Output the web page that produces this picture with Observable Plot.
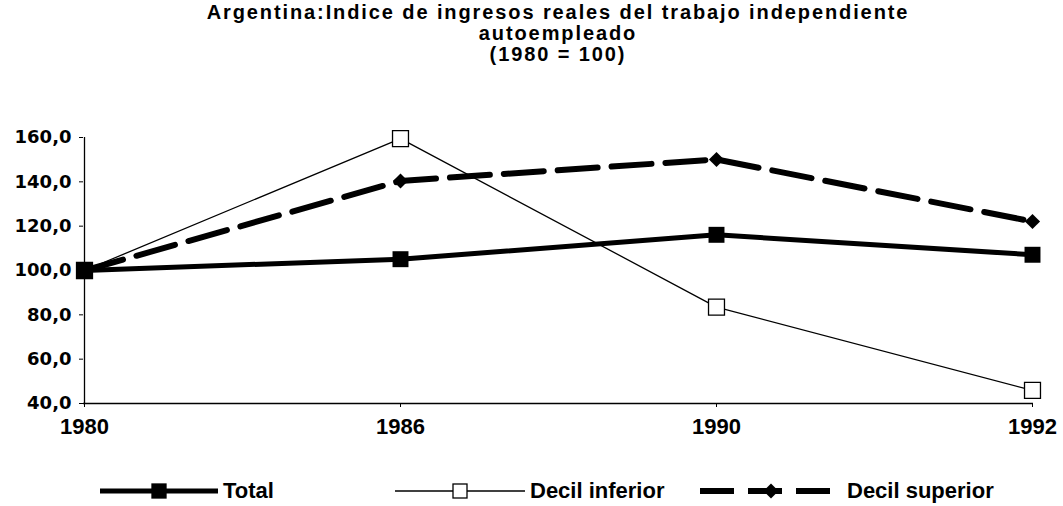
<!DOCTYPE html>
<html>
<head>
<meta charset="utf-8">
<script src="https://cdn.jsdelivr.net/npm/d3@7"></script>
<script src="https://cdn.jsdelivr.net/npm/@observablehq/plot@0.6"></script>
<style>
  html, body { margin: 0; padding: 0; background: #fff; }
  #wrap { position: relative; width: 1063px; height: 506px; overflow: hidden; }
  #title { position: absolute; left: 58px; width: 1000px; top: 2px; text-align: center;
           font-family: "Liberation Sans", Arial, sans-serif; font-weight: bold; font-size: 20px;
           letter-spacing: 1.9px; line-height: 21px; color: #000; }
  #title div { height: 21px; }
  #chart { position: absolute; left: 0; top: 60px; }
  #legend { position: absolute; left: 0; top: 478px; width: 1063px; height: 26px; }
  .item { position: absolute; top: 0; height: 26px; display: flex; align-items: center; }
  .item span { font-family: "Liberation Sans", Arial, sans-serif; font-weight: bold; font-size: 22px; color: #000; }
</style>
</head>
<body>
<div id="wrap">
  <div id="title">
    <div>Argentina:Indice de ingresos reales del trabajo independiente</div>
    <div>autoempleado</div>
    <div>(1980 = 100)</div>
  </div>
  <div id="chart"></div>
  <div id="legend"></div>
</div>
<script>
const years = ["1980", "1986", "1990", "1992"];
const total = [100, 105.1, 116.1, 107.1];
const decilInferior = [100, 159.5, 83.5, 45.9];
const decilSuperior = [100, 140.4, 150.1, 122.1];
const yTicks = [40, 60, 80, 100, 120, 140, 160];
const seriesNames = ["Total", "Decil inferior", "Decil superior"];

const rows = (name, vals) => years.map((y, i) => ({serie: name, year: y, value: vals[i]}));
const dTotal = rows(seriesNames[0], total);
const dInf = rows(seriesNames[1], decilInferior);
const dSup = rows(seriesNames[2], decilSuperior);

const fmt = d => d.toFixed(1).replace(".", ",");

const plot = Plot.plot({
  width: 1063,
  height: 380,
  marginLeft: 83,
  marginRight: 30,
  marginTop: 77,
  marginBottom: 37,
  style: {background: "transparent", color: "#000"},
  x: {type: "point", domain: years, padding: 0, label: null},
  y: {domain: [40, 160], label: null},
  marks: [
    Plot.ruleY([40], {stroke: "#000", strokeWidth: 1.3}),
    Plot.ruleX([years[0]], {stroke: "#000", strokeWidth: 1.3}),
    Plot.axisY({ticks: yTicks, tickFormat: fmt, tickSize: 4, tickPadding: 8, label: null,
      fontFamily: "DejaVu Sans", fontWeight: "bold", fontSize: 18}),
    Plot.axisX({tickSize: 4, tickPadding: 11, label: null,
      fontFamily: "Liberation Sans", fontWeight: "bold", fontSize: 22}),
    Plot.line(dInf, {x: "year", y: "value", stroke: "#000", strokeWidth: 1.3}),
    Plot.line(dSup, {x: "year", y: "value", stroke: "#000", strokeWidth: 6, strokeDasharray: "40,14"}),
    Plot.line(dTotal, {x: "year", y: "value", stroke: "#000", strokeWidth: 5}),
    Plot.dot(dInf, {x: "year", y: "value", symbol: "square", r: 9, fill: "#fff", stroke: "#000", strokeWidth: 1.3}),
    Plot.dot(dSup, {x: "year", y: "value", symbol: "diamond2", r: 6.8, fill: "#000"}),
    Plot.dot(dTotal, {x: "year", y: "value", symbol: "square", r: 9, fill: "#000"})
  ]
});
document.getElementById("chart").appendChild(plot);

// Legend
const legend = document.getElementById("legend");
const items = [
  {left: 100, w: 118, name: seriesNames[0], sw: 5, dash: null, marker: "fsq"},
  {left: 395, w: 130, name: seriesNames[1], sw: 1.3, dash: null, marker: "osq"},
  {left: 700, w: 142, name: seriesNames[2], sw: 6, dash: "34,14", marker: "dia"}
];
const ns = "http://www.w3.org/2000/svg";
for (const it of items) {
  const div = document.createElement("div");
  div.className = "item";
  div.style.left = it.left + "px";
  const svg = document.createElementNS(ns, "svg");
  svg.setAttribute("width", it.w);
  svg.setAttribute("height", 26);
  const line = document.createElementNS(ns, "line");
  line.setAttribute("x1", 0); line.setAttribute("x2", it.w);
  line.setAttribute("y1", 13); line.setAttribute("y2", 13);
  line.setAttribute("stroke", "#000");
  line.setAttribute("stroke-width", it.sw);
  if (it.dash) line.setAttribute("stroke-dasharray", it.dash);
  svg.appendChild(line);
  const cx = it.w / 2;
  if (it.marker === "dia") {
    const p = document.createElementNS(ns, "path");
    p.setAttribute("d", `M${cx},5.5L${cx + 7.5},13L${cx},20.5L${cx - 7.5},13Z`);
    p.setAttribute("fill", "#000");
    svg.appendChild(p);
  } else {
    const r = document.createElementNS(ns, "rect");
    r.setAttribute("x", cx - 7); r.setAttribute("y", 6);
    r.setAttribute("width", 14); r.setAttribute("height", 14);
    r.setAttribute("fill", it.marker === "fsq" ? "#000" : "#fff");
    r.setAttribute("stroke", "#000");
    r.setAttribute("stroke-width", 1.3);
    svg.appendChild(r);
  }
  div.appendChild(svg);
  const span = document.createElement("span");
  span.textContent = it.name;
  span.style.marginLeft = "5px";
  div.appendChild(span);
  legend.appendChild(div);
}
</script>
</body>
</html>
